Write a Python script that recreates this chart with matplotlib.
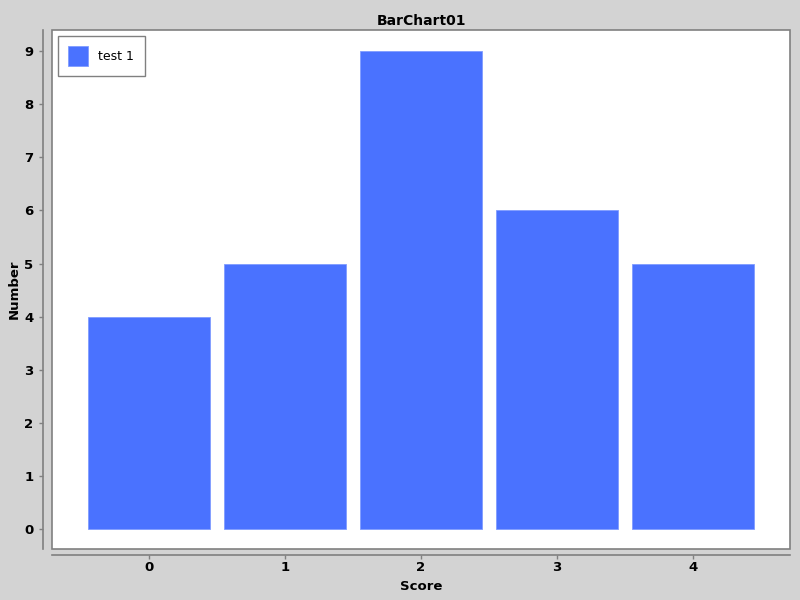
import matplotlib
matplotlib.use('Agg')
import matplotlib.pyplot as plt

scores = [0, 1, 2, 3, 4]
numbers = [4, 5, 9, 6, 5]
series_name = "test 1"

bg = '#d3d3d3'
bar_color = '#4a72ff'
edge_gray = '#808080'

fig = plt.figure(figsize=(8, 6), dpi=100, facecolor=bg)
ax = fig.add_axes([52 / 800, 51 / 600, 738 / 800, 519 / 600])
ax.set_facecolor('white')
ax.patch.set_edgecolor(edge_gray)
ax.patch.set_linewidth(1.2)

ax.bar(scores, numbers, width=0.9, color=bar_color, edgecolor='#7f9cff',
       linewidth=0.6, label=series_name)

ax.set_xlim(-0.713, 4.713)
ax.set_ylim(-0.377, 9.4)
ax.set_xticks(scores)
ax.set_yticks(range(0, 10))

for side in ['top', 'right']:
    ax.spines[side].set_visible(False)
ax.spines['left'].set_position(('outward', 6.5))
ax.spines['bottom'].set_position(('outward', 4.3))
for side in ['left', 'bottom']:
    ax.spines[side].set_color(edge_gray)
    ax.spines[side].set_linewidth(1.2)

ax.tick_params(axis='both', length=3, width=1, color=edge_gray, labelsize=9.5)
ax.tick_params(axis='x', pad=1.5)
ax.tick_params(axis='y', pad=4)
for lbl in ax.get_xticklabels() + ax.get_yticklabels():
    lbl.set_fontweight('bold')

ax.set_xlabel('Score', fontsize=9.5, fontweight='bold', labelpad=4)
ax.set_ylabel('Number', fontsize=9.5, fontweight='bold', labelpad=2)
fig.text(421 / 800, 1 - 21 / 600, 'BarChart01', ha='center', va='center',
         fontsize=10, fontweight='bold')

leg = ax.legend(loc='upper left', fontsize=9, fancybox=False, framealpha=1,
                edgecolor=edge_gray, handlelength=1.6, handleheight=2.0,
                borderpad=0.85, handletextpad=0.8, borderaxespad=0.45)
leg.get_frame().set_linewidth(1)

fig.savefig('out.png', dpi=100, facecolor=bg)
